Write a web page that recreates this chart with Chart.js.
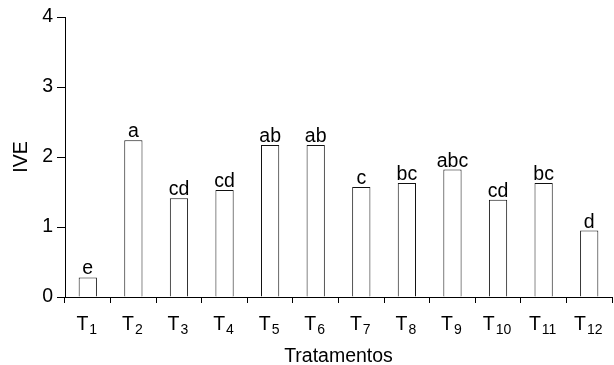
<!DOCTYPE html>
<html><head><meta charset="utf-8">
<script src="https://cdn.jsdelivr.net/npm/chart.js@4/dist/chart.umd.min.js"></script>
<style>html,body{margin:0;padding:0;background:#fff}#wrap{width:614px;height:365px}</style>
</head><body><div id="wrap"><canvas id="c"></canvas></div>
<script>
const categories = ['T1','T2','T3','T4','T5','T6','T7','T8','T9','T10','T11','T12'];
const values = [0.28, 2.24, 1.41, 1.53, 2.17, 2.17, 1.57, 1.63, 1.82, 1.39, 1.63, 0.95];
const letters = ['e','a','cd','cd','ab','ab','c','bc','abc','cd','bc','d'];
const yTicks = [0, 1, 2, 3, 4];

const FONT = '"Liberation Sans", Arial, sans-serif';

const annot = {
  id: 'annot',
  afterDatasetsDraw(chart) {
    const ctx = chart.ctx;
    const meta = chart.getDatasetMeta(0);
    const xs = chart.scales.x;
    ctx.save();
    ctx.fillStyle = '#000';
    ctx.textBaseline = 'alphabetic';
    ctx.textAlign = 'center';
    ctx.font = '19.5px ' + FONT;
    meta.data.forEach((bar, i) => ctx.fillText(letters[i], bar.x, bar.y - 3));
    ctx.textAlign = 'left';
    categories.forEach((c, i) => {
      const main = c.charAt(0), sub = c.slice(1);
      const px = xs.getPixelForValue(i);
      ctx.font = '19.5px ' + FONT;
      const w1 = ctx.measureText(main).width;
      ctx.font = '14px ' + FONT;
      const w2 = ctx.measureText(sub).width;
      const x0 = px - (w1 + w2 + 1) / 2 - 1;
      ctx.font = '19.5px ' + FONT;
      ctx.fillText(main, x0, 330);
      ctx.font = '14px ' + FONT;
      ctx.fillText(sub, x0 + w1 + 1, 334);
    });
    ctx.restore();
  }
};

new Chart(document.getElementById('c'), {
  type: 'bar',
  data: {
    labels: categories,
    datasets: [{
      data: values,
      backgroundColor: '#fff',
      borderColor: '#111',
      borderWidth: 1,
      barPercentage: 0.4,
      categoryPercentage: 1.0
    }]
  },
  options: {
    responsive: true,
    maintainAspectRatio: false,
    animation: false,
    devicePixelRatio: 1,
    layout: { padding: { top: 17, right: 2, left: 0, bottom: 0 } },
    plugins: { legend: { display: false }, tooltip: { enabled: false } },
    scales: {
      x: {
        afterFit(s) { s.height = 68; },
        border: { color: '#000', width: 1 },
        grid: { offset: true, drawOnChartArea: false, drawTicks: true, tickLength: 6, color: '#000' },
        ticks: { display: false },
        title: { display: true, text: 'Tratamentos', color: '#000', font: { family: FONT, size: 19.5 }, padding: { top: 0, bottom: -3 } }
      },
      y: {
        min: 0, max: 4,
        afterFit(s) { s.width = 65; },
        afterBuildTicks(s) { s.ticks = yTicks.map(v => ({ value: v })); },
        border: { color: '#000', width: 1 },
        grid: { drawOnChartArea: false, drawTicks: true, tickLength: 8, color: '#000' },
        ticks: { color: '#000', padding: 4, font: { family: FONT, size: 19.5 } },
        title: { display: true, text: 'IVE', color: '#000', font: { family: FONT, size: 19.5 }, padding: { top: 10, bottom: 0 } }
      }
    }
  },
  plugins: [annot]
});
</script></body></html>
